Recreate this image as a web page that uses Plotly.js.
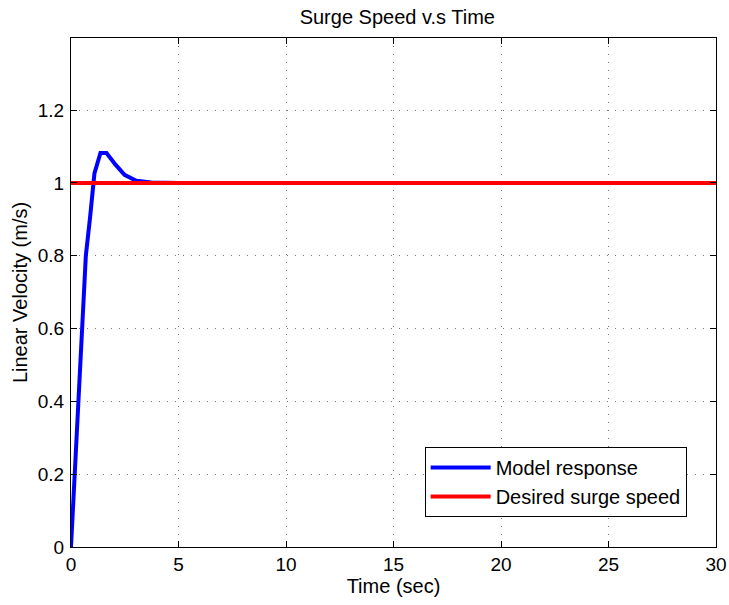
<!DOCTYPE html>
<html>
<head>
<meta charset="utf-8">
<script src="https://cdn.plot.ly/plotly-3.0.1.min.js"></script>
<style>
  html, body { margin: 0; padding: 0; background: #fff; }
  #chart { width: 729px; height: 605px; }
</style>
</head>
<body>
<div id="chart"></div>
<script>
// Simulated surge response of the vehicle model (time in s, velocity in m/s)
const timeModel = [0, 0.18, 0.35, 0.52, 0.69, 0.89, 1.09, 1.37, 1.65, 2.07, 2.49, 3.04, 3.73, 5, 10, 20, 30];
const speedModel = [0, 0.2, 0.4, 0.6, 0.8, 0.907, 1.026, 1.082, 1.082, 1.05, 1.022, 1.006, 1.001, 1.0, 1.0, 1.0, 1.0];

// Reference (desired) surge speed
const timeDesired = [0, 30];
const speedDesired = [1, 1];

const yTickVals = [0, 0.2, 0.4, 0.6, 0.8, 1, 1.2];
const yTickText = ['0', '0.2', '0.4', '0.6', '0.8', '1', '1.2'];
const xTickVals = [0, 5, 10, 15, 20, 25, 30];

const FONT = 'Liberation Sans, Arial, Helvetica, sans-serif';
const FS = 20;

const traces = [
  {
    x: timeModel, y: speedModel,
    type: 'scatter', mode: 'lines',
    name: 'Model response',
    line: { color: '#0000ff', width: 4 }
  },
  {
    x: timeDesired, y: speedDesired,
    type: 'scatter', mode: 'lines',
    name: 'Desired surge speed',
    line: { color: '#ff0000', width: 4 }
  }
];

const axisCommon = {
  showline: true, linecolor: '#000', linewidth: 1,
  mirror: 'ticks', ticks: 'inside', ticklen: 6, tickcolor: '#000', tickwidth: 1,
  showgrid: true, gridcolor: '#777', gridwidth: 1, griddash: '1px,7px',
  zeroline: false,
  tickfont: { family: FONT, size: 19, color: '#000' }
};

const layout = {
  width: 729, height: 605,
  paper_bgcolor: '#fff', plot_bgcolor: '#fff',
  margin: { l: 71, r: 13, t: 38, b: 58 },
  showlegend: true,
  title: {
    text: 'Surge Speed v.s Time',
    font: { family: FONT, size: FS, color: '#000' },
    x: 0.545, xanchor: 'center', y: 0.972, yanchor: 'middle'
  },
  xaxis: Object.assign({}, axisCommon, {
    range: [0, 30], tickvals: xTickVals, ticklabelstandoff: 0,
    title: { text: 'Time (sec)', font: { family: FONT, size: FS, color: '#000' }, standoff: 2 }
  }),
  yaxis: Object.assign({}, axisCommon, {
    range: [0, 1.398], tickvals: yTickVals, ticktext: yTickText, ticklabelstandoff: 2,
    title: { text: 'Linear Velocity (m/s)', font: { family: FONT, size: FS, color: '#000' }, standoff: 4 }
  }),
  legend: {
    x: 0.9545, xanchor: 'right', y: 0.059, yanchor: 'bottom',
    bgcolor: '#fff', bordercolor: '#000', borderwidth: 1,
    font: { family: FONT, size: FS, color: '#000' },
    itemwidth: 60, tracegroupgap: 0
  }
};

Plotly.newPlot('chart', traces, layout, { displayModeBar: false, staticPlot: true });
</script>
</body>
</html>
